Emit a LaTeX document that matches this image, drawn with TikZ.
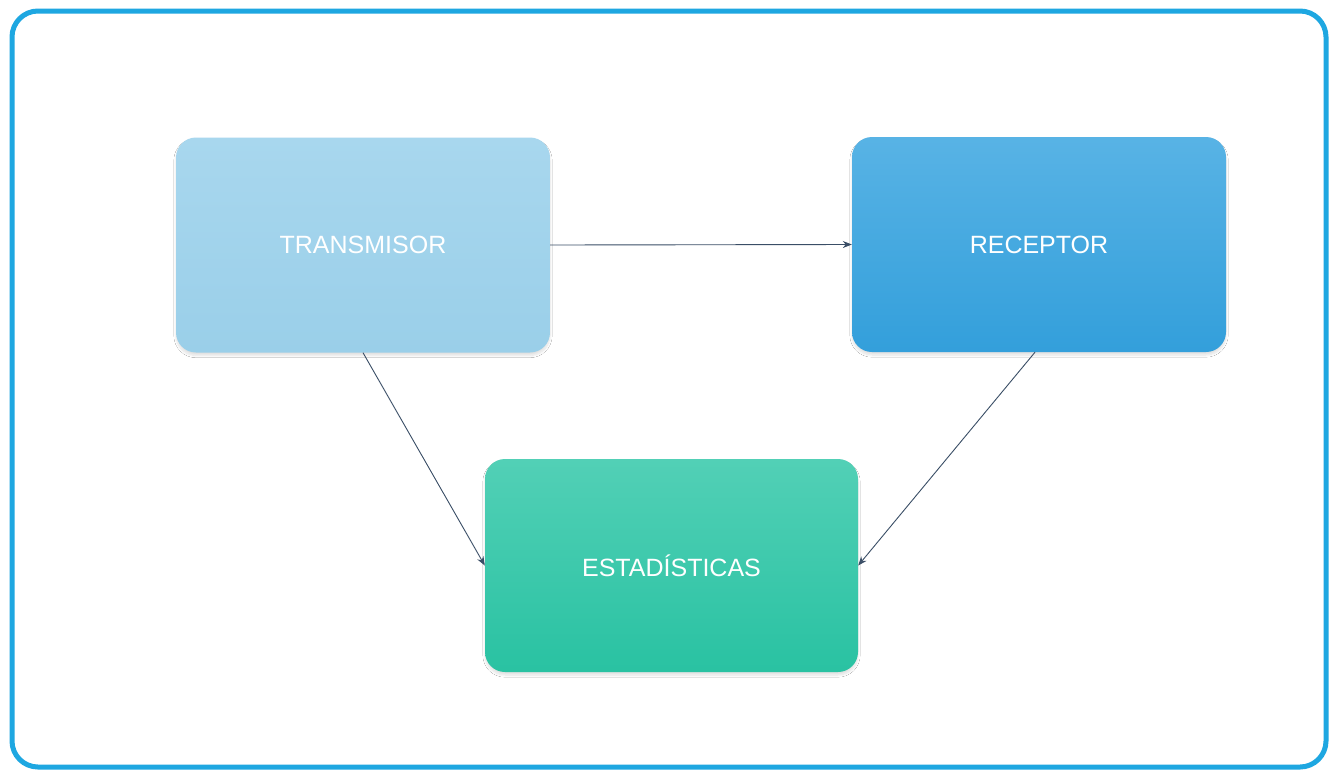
\documentclass[tikz,border=0pt]{standalone}
\usepackage{fontspec}
\setmainfont{Liberation Sans}
\usetikzlibrary{arrows.meta,shadows.blur}
\definecolor{frameblue}{HTML}{1EA7E1}
\definecolor{txtop}{HTML}{A8D7EE}
\definecolor{txbot}{HTML}{9ACFE9}
\definecolor{rxtop}{HTML}{58B3E5}
\definecolor{rxbot}{HTML}{339FDB}
\definecolor{sttop}{HTML}{52D0B6}
\definecolor{stbot}{HTML}{29C2A2}
\definecolor{linkcol}{HTML}{3A4E66}
\tikzset{
  x=1pt, y=-1pt,
  blockbox/.style={rounded corners=20pt, minimum width=374pt, minimum height=215pt,
    text=white, font=\fontsize{25}{28}\selectfont, inner sep=0pt, text depth=0pt,
    blur shadow={shadow xshift=0pt, shadow yshift=-3pt, shadow blur steps=8, shadow opacity=12}},
  link/.style={draw=linkcol, line width=0.9pt, -{Stealth[length=9pt,width=7pt]}}
}
\begin{document}
\begin{tikzpicture}
\useasboundingbox (0,0) rectangle (1335,772);
\fill[white] (0,0) rectangle (1335,772);
% outer frame
\draw[frameblue, line width=5pt, rounded corners=26pt] (12,11) rectangle (1326,767);
% blocks
\node[blockbox, top color=txtop, bottom color=txbot] (tx) at (363,245) {TRANSMISOR};
\node[blockbox, top color=rxtop, bottom color=rxbot] (rx) at (1039,244.5) {RECEPTOR};
\node[blockbox, top color=sttop, bottom color=stbot, minimum width=373pt, minimum height=213pt] (st) at (671.5,565.5) {ESTADÍSTICAS};
% connections
\draw[link] (tx.east) -- (rx.west);
\draw[link] (tx.south) -- (st.west);
\draw[link] ([xshift=-4pt]rx.south) -- (st.east);
\end{tikzpicture}
\end{document}
